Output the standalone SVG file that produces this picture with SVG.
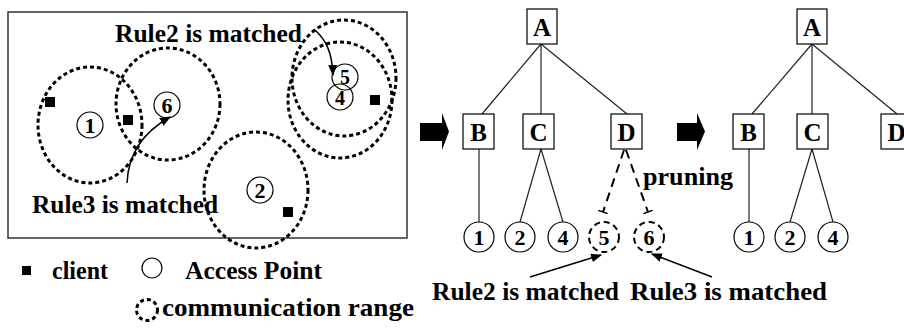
<svg xmlns="http://www.w3.org/2000/svg" width="904" height="330" viewBox="0 0 904 330" font-family="Liberation Serif" font-weight="bold">
<style>
.lbl{font-size:25px}
.big{font-size:25px;text-anchor:middle}
.num{font-size:22px;text-anchor:middle}
.range{fill:none;stroke:#000;stroke-width:3;stroke-dasharray:4 3}
.ap{fill:#fff;stroke:#000;stroke-width:1.2}
.cl{fill:#000}
.box{fill:#fff;stroke:#000;stroke-width:1.2}
.edge{stroke:#222;stroke-width:1.2;fill:none}
.dedge{stroke:#000;stroke-width:2;fill:none;stroke-dasharray:9 6}
.dap{fill:#fff;stroke:#000;stroke-width:2;stroke-dasharray:6 4}
.arr{stroke:#000;stroke-width:1.5;fill:none}
.blk{fill:#000}
</style>
<defs>
<marker id="ah" viewBox="0 0 10 8" refX="9" refY="4" markerWidth="11" markerHeight="9" markerUnits="userSpaceOnUse" orient="auto"><path d="M0,0 L10,4 L0,8 z" fill="#000"/></marker>
<marker id="tee" viewBox="-1 -5 2 10" refX="0" refY="0" markerWidth="2" markerHeight="10" markerUnits="userSpaceOnUse" orient="auto"><path d="M0,-5 L0,5" stroke="#000" stroke-width="1.5"/></marker>
</defs>

<!-- Left panel: network scene -->
<g id="scene">
<rect x="8" y="12" width="399" height="226" fill="#fff" stroke="#333" stroke-width="1.5"/>
<ellipse class="range" cx="90" cy="125" rx="52" ry="58"/>
<ellipse class="range" cx="168" cy="104" rx="52" ry="56"/>
<ellipse class="range" cx="256" cy="190" rx="52" ry="58"/>
<ellipse class="range" cx="344" cy="78" rx="52" ry="58"/>
<ellipse class="range" cx="340" cy="100" rx="52" ry="58"/>
<rect class="cl" x="45" y="97" width="10" height="10"/>
<rect class="cl" x="123" y="115" width="10" height="10"/>
<rect class="cl" x="370" y="95" width="10" height="10"/>
<rect class="cl" x="283" y="207" width="10" height="10"/>
<g id="ap1"><circle class="ap" cx="90" cy="125" r="13"/><text class="num" x="90" y="133">1</text></g>
<g id="ap6"><circle class="ap" cx="167" cy="105" r="13"/><text class="num" x="167" y="113">6</text></g>
<g id="ap2"><circle class="ap" cx="260" cy="190" r="13"/><text class="num" x="260" y="198">2</text></g>
<g id="ap4"><circle class="ap" cx="340" cy="97" r="13" style="fill:none"/><text class="num" x="340" y="105" style="font-size:20px">4</text></g>
<g id="ap5"><circle class="ap" cx="345" cy="77" r="13" style="fill:none"/><text class="num" x="345" y="84" style="font-size:20px">5</text></g>
<text class="lbl" x="115" y="42" textLength="187" lengthAdjust="spacingAndGlyphs">Rule2 is matched</text>
<text class="lbl" x="32" y="213" textLength="186" lengthAdjust="spacingAndGlyphs">Rule3 is matched</text>
<path class="arr" d="M315,30 C326,40 332,52 333,75" marker-end="url(#ah)"/>
<path class="arr" d="M127,183 C128,158 140,134 170,117" marker-end="url(#ah)"/>
</g>

<!-- Legend -->
<g id="legend">
<rect class="cl" x="22" y="266" width="9" height="9"/>
<text class="lbl" x="52" y="279" textLength="56" lengthAdjust="spacingAndGlyphs">client</text>
<circle cx="152" cy="268" r="10" fill="#fff" stroke="#000" stroke-width="1.2"/>
<text class="lbl" x="185" y="279" textLength="137" lengthAdjust="spacingAndGlyphs">Access Point</text>
<circle cx="147" cy="310" r="10.5" fill="none" stroke="#000" stroke-width="3" stroke-dasharray="4 3"/>
<text class="lbl" x="162" y="316" textLength="252" lengthAdjust="spacingAndGlyphs">communication range</text>
</g>

<!-- Block arrows -->
<g id="arrow1"><polygon class="blk" points="420,123 442,123 442,113 449,131.5 442,150 442,141 420,141"/></g>
<g id="arrow2"><polygon class="blk" points="677,123 697,123 697,113 705,131.5 697,150 697,141 677,141"/></g>

<!-- Tree 1 connectors -->
<g id="tree1-edges">
<line class="edge" x1="541" y1="44" x2="482" y2="114"/>
<line class="edge" x1="541" y1="44" x2="541" y2="114"/>
<line class="edge" x1="541" y1="44" x2="627" y2="114"/>
<line class="edge" x1="479" y1="149" x2="479" y2="222"/>
<line class="edge" x1="541" y1="149" x2="520" y2="222"/>
<line class="edge" x1="541" y1="149" x2="563" y2="222"/>
<line class="dedge" x1="624" y1="150" x2="603" y2="212" marker-end="url(#tee)"/>
<line class="dedge" x1="626" y1="150" x2="648" y2="212" marker-end="url(#tee)"/>
<line class="arr" x1="530" y1="277" x2="601" y2="255" marker-end="url(#ah)"/>
<line class="arr" x1="712" y1="277" x2="652" y2="254" marker-end="url(#ah)"/>
</g>
<g id="t1-A"><rect class="box" x="527" y="9" width="30" height="35"/><text class="big" x="542" y="36">A</text></g>
<g id="t1-B"><rect class="box" x="463" y="114" width="31" height="35"/><text class="big" x="478.5" y="141">B</text></g>
<g id="t1-C"><rect class="box" x="523" y="114" width="31" height="35"/><text class="big" x="538.5" y="141">C</text></g>
<g id="t1-D"><rect class="box" x="611" y="114" width="31" height="35"/><text class="big" x="626.5" y="141">D</text></g>
<g id="t1-1"><circle class="ap" cx="479" cy="237" r="15"/><text class="num" x="479" y="245">1</text></g>
<g id="t1-2"><circle class="ap" cx="520" cy="237" r="15"/><text class="num" x="520" y="245">2</text></g>
<g id="t1-4"><circle class="ap" cx="563" cy="237" r="15"/><text class="num" x="563" y="245">4</text></g>
<g id="t1-5"><circle class="dap" cx="604" cy="237" r="15"/><text class="num" x="604" y="245">5</text></g>
<g id="t1-6"><circle class="dap" cx="649" cy="237" r="15"/><text class="num" x="649" y="245">6</text></g>
<text class="lbl" x="643" y="185" textLength="90" lengthAdjust="spacingAndGlyphs">pruning</text>
<text class="lbl" x="432" y="300" textLength="187" lengthAdjust="spacingAndGlyphs">Rule2 is matched</text>
<text class="lbl" x="630" y="300" textLength="197" lengthAdjust="spacingAndGlyphs">Rule3 is matched</text>

<!-- Tree 2 -->
<g id="tree2-edges">
<line class="edge" x1="812" y1="44" x2="752" y2="114"/>
<line class="edge" x1="812" y1="44" x2="812" y2="114"/>
<line class="edge" x1="812" y1="44" x2="897" y2="114"/>
<line class="edge" x1="749" y1="149" x2="749" y2="222"/>
<line class="edge" x1="812" y1="149" x2="790" y2="222"/>
<line class="edge" x1="812" y1="149" x2="833" y2="222"/>
</g>
<g id="t2-A"><rect class="box" x="797" y="9" width="30" height="35"/><text class="big" x="812" y="36">A</text></g>
<g id="t2-B"><rect class="box" x="733" y="114" width="31" height="35"/><text class="big" x="748.5" y="141">B</text></g>
<g id="t2-C"><rect class="box" x="797" y="114" width="31" height="35"/><text class="big" x="812.5" y="141">C</text></g>
<g id="t2-D"><rect class="box" x="881" y="114" width="31" height="35"/><text class="big" x="896.5" y="141">D</text></g>
<g id="t2-1"><circle class="ap" cx="749" cy="237" r="15"/><text class="num" x="749" y="245">1</text></g>
<g id="t2-2"><circle class="ap" cx="790" cy="237" r="15"/><text class="num" x="790" y="245">2</text></g>
<g id="t2-4"><circle class="ap" cx="833" cy="237" r="15"/><text class="num" x="833" y="245">4</text></g>
</svg>
